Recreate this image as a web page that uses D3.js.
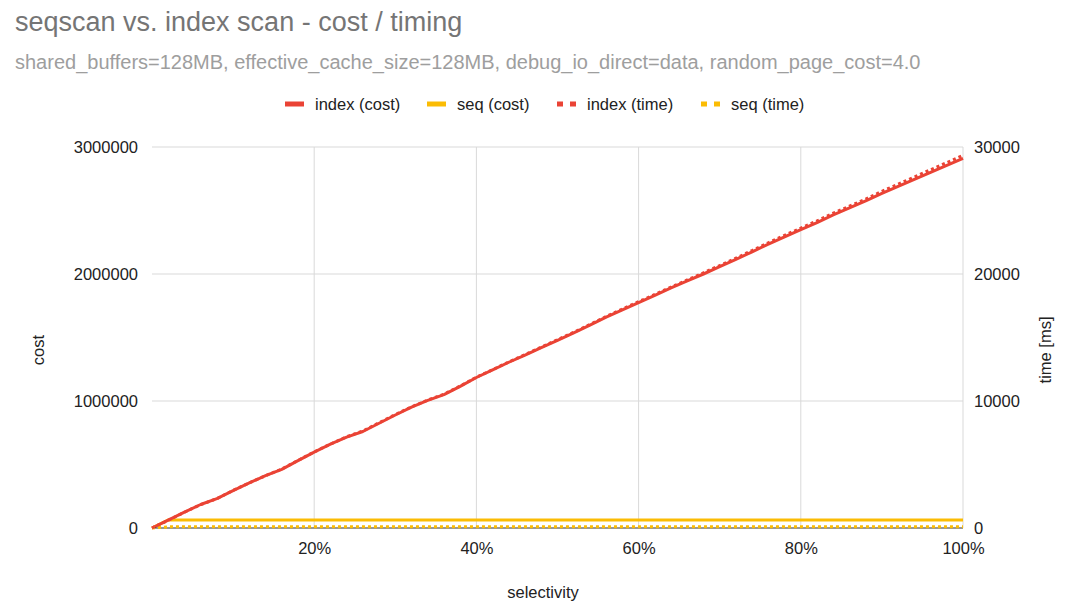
<!DOCTYPE html>
<html>
<head>
<meta charset="utf-8">
<script src="https://cdn.jsdelivr.net/npm/d3@7"></script>
<style>
  body { margin: 0; background: #fff; }
  svg { display: block; font-family: Arial, "Liberation Sans", sans-serif; }
</style>
</head>
<body>
<svg id="chart" width="1080" height="612"></svg>
<script>
// selectivity (fraction), sampled every 2%
const selectivity = [0, .02, .04, .06, .08, .10, .12, .14, .16, .18, .20, .22, .24, .26, .28, .30, .32, .34, .36, .38, .40,
  .42, .44, .46, .48, .50, .52, .54, .56, .58, .60, .62, .64, .66, .68, .70, .72, .74, .76, .78, .80,
  .82, .84, .86, .88, .90, .92, .94, .96, .98, 1.0];

const indexCost = [0, 62000, 125000, 185000, 232000, 295000, 355000, 412000, 462000, 530000, 598000,
  660000, 715000, 760000, 825000, 890000, 952000, 1005000, 1050000, 1115000, 1185000,
  1245000, 1305000, 1362000, 1420000, 1478000, 1537000, 1598000, 1660000, 1718000, 1775000,
  1832000, 1890000, 1945000, 2000000, 2058000, 2115000, 2175000, 2235000, 2292000, 2350000,
  2405000, 2465000, 2520000, 2575000, 2635000, 2690000, 2745000, 2800000, 2855000, 2910000];

const seqCost = [0, 63500, 63500, 63500, 63500, 63500, 63500, 63500, 63500, 63500, 63500,
  63500, 63500, 63500, 63500, 63500, 63500, 63500, 63500, 63500, 63500,
  63500, 63500, 63500, 63500, 63500, 63500, 63500, 63500, 63500, 63500,
  63500, 63500, 63500, 63500, 63500, 63500, 63500, 63500, 63500, 63500,
  63500, 63500, 63500, 63500, 63500, 63500, 63500, 63500, 63500, 63500];

const indexTime = [0, 610, 1240, 1840, 2310, 2960, 3560, 4120, 4640, 5320, 5990,
  6610, 7180, 7640, 8290, 8930, 9540, 10070, 10540, 11180, 11870,
  12470, 13070, 13650, 14240, 14820, 15410, 16030, 16650, 17240, 17820,
  18390, 18970, 19530, 20090, 20670, 21250, 21850, 22460, 23040, 23620,
  24180, 24790, 25340, 25900, 26510, 27070, 27640, 28210, 28770, 29350];

const seqTime = [0, 90, 90, 90, 90, 90, 90, 90, 90, 90, 90,
  90, 90, 90, 90, 90, 90, 90, 90, 90, 90,
  90, 90, 90, 90, 90, 90, 90, 90, 90, 90,
  90, 90, 90, 90, 90, 90, 90, 90, 90, 90,
  90, 90, 90, 90, 90, 90, 90, 90, 90, 90];

const costTicks = [0, 1000000, 2000000, 3000000];
const timeTicks = [0, 10000, 20000, 30000];
const xTicks = [0.2, 0.4, 0.6, 0.8, 1.0];

const seriesNames = ['index (cost)', 'seq (cost)', 'index (time)', 'seq (time)'];

const RED = '#ea4335', YELLOW = '#fbbc04';
const FS = 16.5;

const svg = d3.select('#chart');
const plotLeft = 152, plotRight = 963, plotTop = 147, plotBottom = 528;

const x = d3.scaleLinear().domain([0, 1]).range([plotLeft, plotRight]);
const yCost = d3.scaleLinear().domain([0, 3000000]).range([plotBottom, plotTop]);
const yTime = d3.scaleLinear().domain([0, 30000]).range([plotBottom, plotTop]);

// titles
svg.append('text').attr('x', 15).attr('y', 31)
  .attr('font-size', 27).attr('fill', '#757575')
  .text('seqscan vs. index scan - cost / timing');
svg.append('text').attr('x', 15).attr('y', 69)
  .attr('font-size', 20).attr('fill', '#9e9e9e')
  .text('shared_buffers=128MB, effective_cache_size=128MB, debug_io_direct=data, random_page_cost=4.0');

// gridlines
const grid = svg.append('g');
grid.selectAll('.hg').data(costTicks.slice(1)).enter().append('line')
  .attr('x1', plotLeft).attr('x2', plotRight)
  .attr('y1', d => yCost(d)).attr('y2', d => yCost(d))
  .attr('stroke', '#d9d9d9').attr('stroke-width', 1);
grid.selectAll('.vg').data(xTicks).enter().append('line')
  .attr('x1', d => x(d)).attr('x2', d => x(d))
  .attr('y1', plotTop).attr('y2', plotBottom)
  .attr('stroke', '#d9d9d9').attr('stroke-width', 1);

// axes
function styleAxis(g) {
  g.select('.domain').remove();
  g.attr('font-family', null).attr('font-size', null);
  g.selectAll('text').attr('font-size', FS).attr('fill', '#222');
}

const xAxis = d3.axisBottom(x).tickValues(xTicks).tickSize(0).tickPadding(14)
  .tickFormat(d3.format('.0%'));
svg.append('g').attr('transform', 'translate(0,' + plotBottom + ')').call(xAxis).call(styleAxis);

const yAxisL = d3.axisLeft(yCost).tickValues(costTicks).tickSize(0).tickPadding(14)
  .tickFormat(d3.format('d'));
svg.append('g').attr('transform', 'translate(' + plotLeft + ',0)').call(yAxisL).call(styleAxis);

const yAxisR = d3.axisRight(yTime).tickValues(timeTicks).tickSize(0).tickPadding(11)
  .tickFormat(d3.format('d'));
svg.append('g').attr('transform', 'translate(' + plotRight + ',0)').call(yAxisR).call(styleAxis);

svg.append('text').attr('x', 543).attr('y', 598).attr('text-anchor', 'middle')
  .attr('font-size', FS).attr('fill', '#222').text('selectivity');
svg.append('text').attr('transform', 'translate(44,350) rotate(-90)').attr('text-anchor', 'middle')
  .attr('font-size', FS).attr('fill', '#222').text('cost');
svg.append('text').attr('transform', 'translate(1051,350) rotate(-90)').attr('text-anchor', 'middle')
  .attr('font-size', FS).attr('fill', '#222').text('time [ms]');

// series
const lineCost = d3.line().x((d, i) => x(selectivity[i])).y(d => yCost(d));
const lineTime = d3.line().x((d, i) => x(selectivity[i])).y(d => yTime(d));

svg.append('path').datum(seqCost).attr('d', lineCost)
  .attr('fill', 'none').attr('stroke', YELLOW).attr('stroke-width', 3);
svg.append('path').datum(indexCost).attr('d', lineCost)
  .attr('fill', 'none').attr('stroke', RED).attr('stroke-width', 3).attr('stroke-linejoin', 'round');

// zero baseline
svg.append('line').attr('x1', plotLeft).attr('x2', plotRight).attr('y1', plotBottom).attr('y2', plotBottom)
  .attr('stroke', '#333').attr('stroke-width', 1);

svg.append('path').datum(seqTime).attr('d', lineTime)
  .attr('fill', 'none').attr('stroke', YELLOW).attr('stroke-width', 3).attr('stroke-dasharray', '3,3');
svg.append('path').datum(indexTime).attr('d', lineTime)
  .attr('fill', 'none').attr('stroke', RED).attr('stroke-width', 3).attr('stroke-dasharray', '3,3');

// legend
const legendItems = [
  { label: seriesNames[0], color: RED, dash: null, x: 285 },
  { label: seriesNames[1], color: YELLOW, dash: null, x: 427 },
  { label: seriesNames[2], color: RED, dash: '6,7', x: 557 },
  { label: seriesNames[3], color: YELLOW, dash: '6,7', x: 701 }
];
const lg = svg.append('g').attr('transform', 'translate(0,104)');
legendItems.forEach(it => {
  lg.append('line').attr('x1', it.x).attr('x2', it.x + 19).attr('y1', 0).attr('y2', 0)
    .attr('stroke', it.color).attr('stroke-width', 5).attr('stroke-dasharray', it.dash);
  lg.append('text').attr('x', it.x + 30).attr('y', 6).attr('font-size', FS).attr('fill', '#222')
    .text(it.label);
});
</script>
</body>
</html>
